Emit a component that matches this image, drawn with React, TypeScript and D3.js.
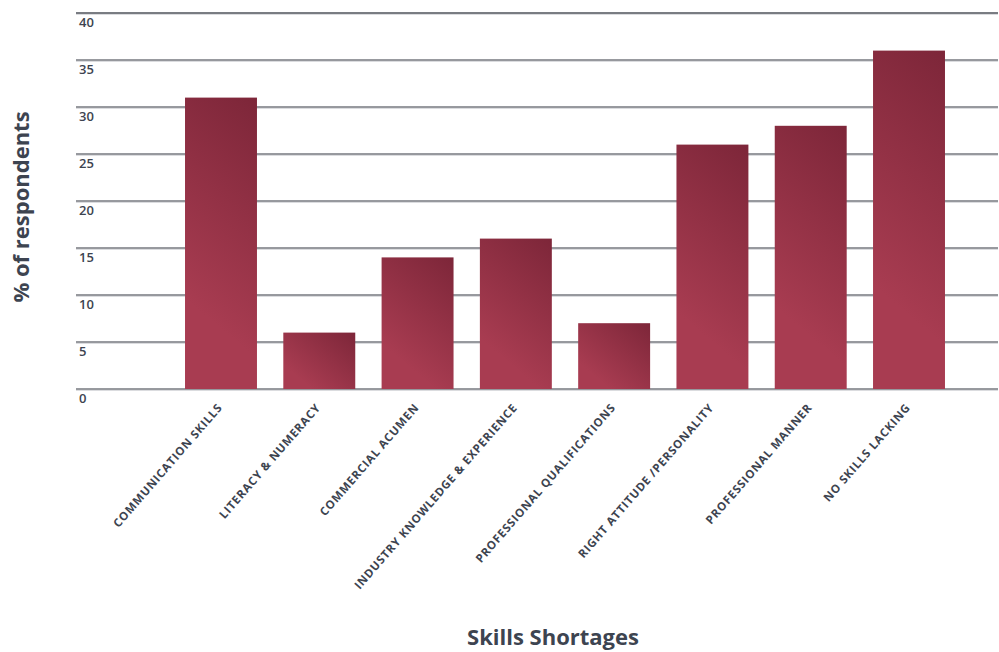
import React from "react";
import * as d3 from "d3";

const categories = [
  "COMMUNICATION SKILLS",
  "LITERACY & NUMERACY",
  "COMMERCIAL ACUMEN",
  "INDUSTRY KNOWLEDGE & EXPERIENCE",
  "PROFESSIONAL QUALIFICATIONS",
  "RIGHT ATTITUDE /PERSONALITY",
  "PROFESSIONAL MANNER",
  "NO SKILLS LACKING",
];
const values = [31, 6, 14, 16, 7, 26, 28, 36];
const yTicks = [0, 5, 10, 15, 20, 25, 30, 35, 40];
const yTitle = "% of respondents";
const xTitle = "Skills Shortages";

const W = 999;
const H = 652;
const textColor = "#3d4450";
const font = "'Open Sans', Lato, sans-serif";

export default function App() {
  const x = d3
    .scaleBand<string>()
    .domain(categories)
    .range([171.85, 958.15])
    .paddingInner(0.268)
    .paddingOuter(0.134);
  const y = d3.scaleLinear().domain([0, 40]).range([389, 13]);
  const gridX0 = 76;
  const gridX1 = 998;
  const ang = (50 * Math.PI) / 180;

  const bars = categories.map((c, i) => {
    const bx = x(c) as number;
    const bw = x.bandwidth();
    const top = y(values[i]);
    const h = y(0) - top;
    const L = 0.55 * h + 40;
    return {
      c,
      bx,
      bw,
      top,
      h,
      gx1: bx + bw,
      gy1: top,
      gx2: bx + bw - L * Math.cos(ang),
      gy2: top + L * Math.sin(ang),
    };
  });

  return (
    <svg
      width={W}
      height={H}
      style={{ position: "absolute", left: 0, top: 0 }}
      xmlns="http://www.w3.org/2000/svg"
    >
      <defs>
        {bars.map((b, i) => (
          <linearGradient
            key={i}
            id={`barGrad${i}`}
            gradientUnits="userSpaceOnUse"
            x1={b.gx1}
            y1={b.gy1}
            x2={b.gx2}
            y2={b.gy2}
          >
            <stop offset="0%" stopColor="#7d2639" />
            <stop offset="100%" stopColor="#a83c51" />
          </linearGradient>
        ))}
      </defs>
      <rect width={W} height={H} fill="#ffffff" />
      {yTicks.map((t) => (
        <g key={t}>
          <line
            x1={gridX0}
            x2={gridX1}
            y1={y(t) + 1.3}
            y2={y(t) + 1.3}
            stroke="#d3d4d7"
            strokeWidth={1}
          />
          <line
            x1={gridX0}
            x2={gridX1}
            y1={y(t)}
            y2={y(t)}
            stroke={t === 40 ? "#4e525a" : "#76797f"}
            strokeWidth={1.4}
          />
          <text
            x={79}
            y={y(t) + 14}
            fontFamily={font}
            fontSize={13}
            fontWeight={600}
            fill={textColor}
          >
            {t}
          </text>
        </g>
      ))}
      {bars.map((b, i) => (
        <rect
          key={b.c}
          x={b.bx}
          y={b.top}
          width={b.bw}
          height={b.h}
          fill={`url(#barGrad${i})`}
        />
      ))}
      {categories.map((c) => {
        const cx = (x(c) as number) + x.bandwidth() / 2 + 2;
        const cy = 408;
        return (
          <text
            key={c}
            transform={`translate(${cx},${cy}) rotate(-49)`}
            textAnchor="end"
            fontFamily={font}
            fontSize={11.5}
            fontWeight={700}
            letterSpacing={0.75}
            fill={textColor}
          >
            {c}
          </text>
        );
      })}
      <text
        transform={`translate(29,207) rotate(-90)`}
        textAnchor="middle"
        fontFamily={font}
        fontSize={22}
        fontWeight={700}
        fill={textColor}
      >
        {yTitle}
      </text>
      <text
        x={553}
        y={645}
        textAnchor="middle"
        fontFamily={font}
        fontSize={22}
        fontWeight={700}
        fill={textColor}
      >
        {xTitle}
      </text>
    </svg>
  );
}
